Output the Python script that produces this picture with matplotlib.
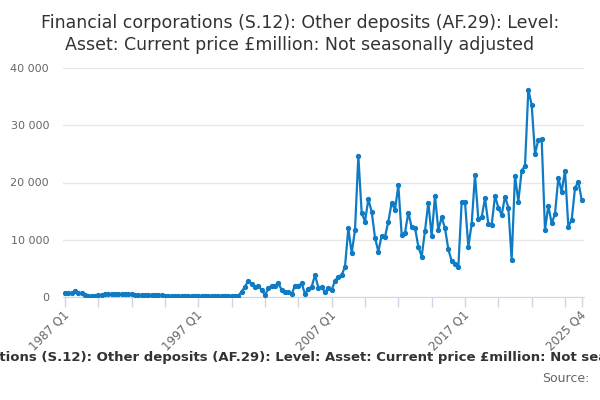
import matplotlib
matplotlib.use("Agg")
import matplotlib.pyplot as plt
import matplotlib.transforms as mtransforms
from matplotlib.ticker import FuncFormatter

# quarterly values, 1987 Q1 .. 2025 Q4 (£million)
years = list(range(1987, 2026))
quarters = ["%d Q%d" % (y, q) for y in years for q in range(1, 5)]

values = [
    650, 700, 700, 1000, 700, 650, 300, 250, 250, 260,
    280, 300, 450, 450, 460, 470, 480, 500, 520, 550,
    500, 350, 330, 330, 320, 320, 310, 300, 300, 300,
    220, 210, 200, 200, 200, 200, 190, 190, 200, 200,
    200, 190, 190, 190, 200, 200, 190, 190, 200, 200,
    200, 210, 230, 930, 1800, 2850, 2270, 1800, 2000, 1220,
    350, 1500, 2000, 2000, 2400, 1220, 930, 900, 520, 2000,
    1900, 2400, 520, 1400, 1800, 3850, 1630, 1700, 820, 1630,
    1220, 2850, 3550, 3850, 5300, 12000, 7640, 11700, 24650, 14740,
    13170, 17080, 14910, 10370, 7920, 10720, 10540, 13170, 16490, 15210,
    19500, 10900, 11240, 14740, 12180, 12100, 8800, 7050, 11600, 16490,
    10660, 17660, 11710, 13930, 12000, 8330, 6290, 5700, 5190, 16600,
    16600, 8800, 12760, 21330, 13580, 13930, 17250, 12760, 12590, 17660,
    15610, 14340, 17540, 15610, 6470, 21210, 16670, 22090, 22900, 36190,
    33570, 25000, 27450, 27570, 11710, 15910, 12880, 14510, 20860, 18410,
    22090, 12290, 13460, 19000, 20160, 16960,
]

title = ("Financial corporations (S.12): Other deposits (AF.29): Level:\n"
         "Asset: Current price £million: Not seasonally adjusted")
caption = ("Financial corporations (S.12): Other deposits (AF.29): Level: "
           "Asset: Current price £million: Not seasonally adjusted")

line_col = "#0f7bc4"
grey = "#666666"

fig = plt.figure(figsize=(6, 4), dpi=100)
ax = fig.add_axes([63 / 600, 103 / 400, 521 / 600, 229 / 400])

xs = list(range(len(values)))
ax.plot(xs, values, color=line_col, lw=1.6, marker="o", ms=2.8, zorder=3)

ax.set_xlim(-0.6, 155.7)
ax.set_ylim(0, 40000)
ax.set_yticks([0, 10000, 20000, 30000, 40000])
ax.yaxis.set_major_formatter(FuncFormatter(lambda v, p: "{:,}".format(int(v)).replace(",", " ")))
ax.grid(axis="y", color="#e6e6e6", lw=1)
ax.set_axisbelow(True)

for s in ["top", "right", "left"]:
    ax.spines[s].set_visible(False)
ax.spines["bottom"].set_color("#ccd6eb")

tick_pos = list(range(0, len(values), 10)) + [len(values) - 1]
ax.set_xticks(tick_pos)
ax.set_xticklabels([])
ax.tick_params(axis="x", colors="#ccd6eb", length=7, width=1)
ax.tick_params(axis="y", length=0, labelcolor=grey, labelsize=8, pad=10)

# rotated quarter labels, drawn as texts under the ticks
lab_idx = [0, 40, 80, 120, len(values) - 1]
trans = mtransforms.blended_transform_factory(ax.transData, ax.transAxes)
for i in lab_idx:
    ax.text(i + 0.6, -0.07, quarters[i], transform=trans, rotation=45,
            rotation_mode="anchor", ha="right", va="center",
            fontsize=8.5, color=grey, clip_on=False)

fig.text(0.5, 0.965, title, ha="center", va="top", fontsize=12.5, color="#333333", linespacing=1.25)
fig.text(0.5, 0.105, caption, ha="center", va="center", fontsize=9.5, fontweight="bold", color="#333333")
fig.text(0.982, 0.055, "Source:", ha="right", va="center", fontsize=9, color=grey)

fig.savefig("out.png", dpi=100)
